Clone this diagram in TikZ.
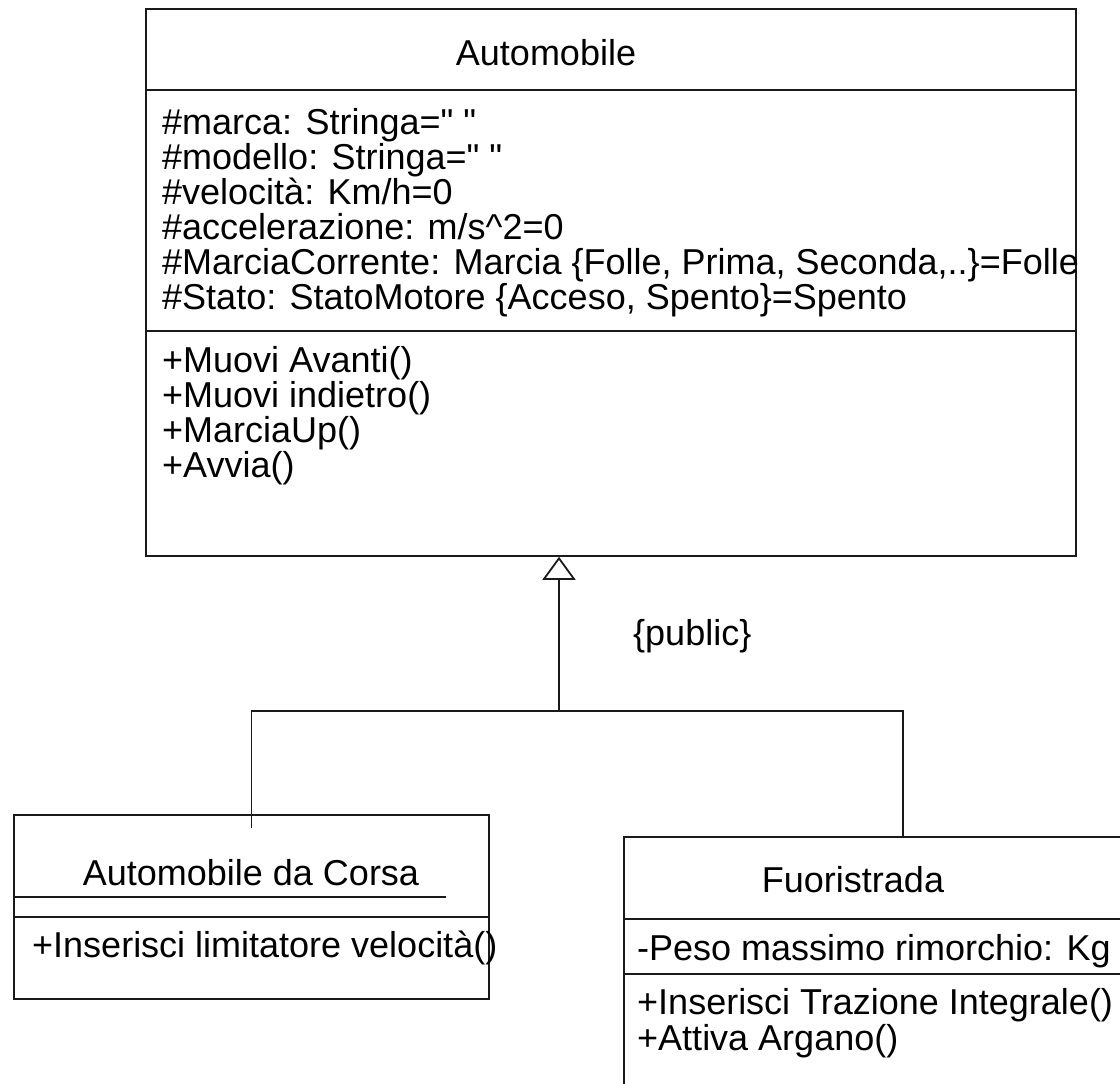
\documentclass[tikz,border=0pt]{standalone}
\usepackage{fontspec}
\setmainfont[Ligatures=TeXOff]{Liberation Sans}
\usetikzlibrary{arrows.meta,positioning}
\definecolor{linec}{HTML}{1A1A1A}
\tikzset{
  cls/.style={draw=linec,line width=1.8pt,inner sep=0pt,anchor=north west},
  sep/.style={draw=linec,line width=1.8pt},
  txt/.style={inner sep=0pt,anchor=base west,font=\fontsize{36}{36}\selectfont},
  ttl/.style={inner sep=0pt,anchor=base,font=\fontsize{36}{36}\selectfont},
  inh/.style={-{Triangle[open,length=23pt,width=33pt]},line width=1.8pt,linec}
}

\begin{document}
\begin{tikzpicture}[x=1pt,y=-1pt]
\clip (0,0) rectangle (1120,1084);
\node[cls,minimum width=930pt,minimum height=547pt] (auto) at (145,8) {};
\node[cls,minimum width=475pt,minimum height=184pt] (corsa) at (13,814) {};
\node[cls,minimum width=558pt,minimum height=320pt] (fuori) at (623,836) {};
% Automobile
\node[ttl] (tauto) at (546,65) {Automobile};
\draw[sep] (auto.west |- 0,90) -- (auto.east |- 0,90);
\foreach \t [count=\i] in {{\#marca: Stringa=" "},{\#modello: Stringa=" "},{\#velocità: Km/h=0},{\#accelerazione: m/s\textasciicircum2=0},{\#MarciaCorrente: Marcia \{Folle, Prima, Seconda,..\}=Folle},{\#Stato: StatoMotore \{Acceso, Spento\}=Spento}}
  \node[txt] (att\i) at (162,{99+35*\i}) {\t};
\draw[sep] (auto.west |- 0,331) -- (auto.east |- 0,331);
\foreach \t [count=\i] in {{+Muovi Avanti()},{+Muovi indietro()},{+MarciaUp()},{+Avvia()}}
  \node[txt] (op\i) at (162,{337+35*\i}) {\t};
% Automobile da Corsa
\node[ttl] (tcorsa) at (251,885) {Automobile da Corsa};
\draw[sep] (corsa.west |- 0,897) -- (446,897);
\draw[sep] (corsa.west |- 0,917) -- (corsa.east |- 0,917);
\node[txt] (opc) at (32,957) {+Inserisci limitatore velocità()};
% Fuoristrada
\node[ttl] (tfuori) at (853,892) {Fuoristrada};
\draw[sep] (fuori.west |- 0,919) -- (fuori.east |- 0,919);
\node[txt] (attf) at (637,960) {-Peso massimo rimorchio: Kg};
\draw[sep] (fuori.west |- 0,974) -- (fuori.east |- 0,974);
\node[txt] (opf1) at (637,1014) {+Inserisci Trazione Integrale()};
\node[txt] (opf2) at (637,1050) {+Attiva Argano()};
% generalizzazione
\coordinate (hub) at (559,711);
\draw[sep] ([yshift=-14pt]corsa.north) |- (hub) -| (fuori.north);
\draw[inh] (hub) -- (hub |- auto.south);
\node[txt] (pub) at (633,645) {\{public\}};
\end{tikzpicture}
\end{document}
